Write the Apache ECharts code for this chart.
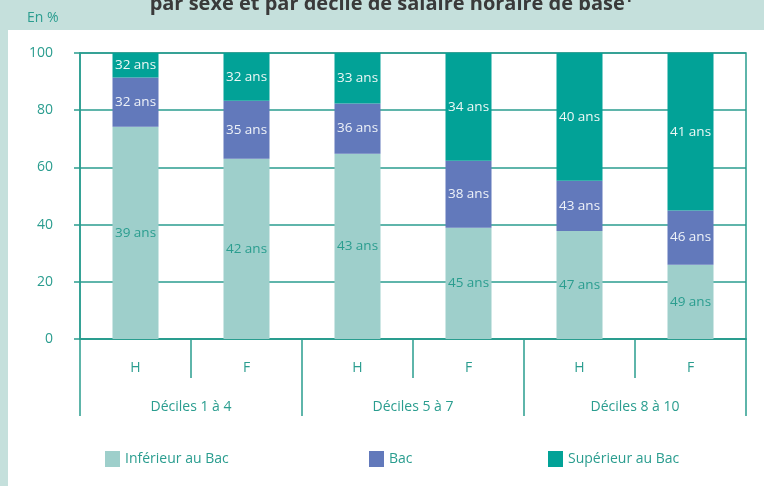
<!DOCTYPE html>
<html>
<head>
<meta charset="utf-8">
<script src="https://cdn.jsdelivr.net/npm/echarts@6/dist/echarts.min.js"></script>
<style>
  body { margin: 0; }
  #chart { width: 764px; height: 486px; background: #c5e0dc; }
</style>
</head>
<body>
<div id="chart"></div>
<script>
// catégories (sexe) et groupes de déciles
var sexes = ['H', 'F', 'H', 'F', 'H', 'F'];
var groupes = ['Déciles 1 à 4', 'Déciles 5 à 7', 'Déciles 8 à 10'];
var niveaux = ['Inférieur au Bac', 'Bac', 'Supérieur au Bac'];
var yTicks = [0, 20, 40, 60, 80, 100];

// parts en %
var inferieur = [74.2, 63.0, 64.8, 38.9, 37.8, 26.0];
var bac = [17.2, 20.3, 17.5, 23.4, 17.5, 18.9];
var superieur = [8.6, 16.7, 17.7, 37.7, 44.7, 55.1];

// âges moyens affichés dans les barres
var ageInf = [39, 42, 43, 45, 47, 49];
var ageBac = [32, 35, 36, 38, 43, 46];
var ageSup = [32, 32, 33, 34, 40, 41];

var teal = '#2a9d8f';
var font = '"Open Sans", "Noto Sans", sans-serif';

var myChart = echarts.init(document.getElementById('chart'));

function serie(nom, valeurs, ages, couleur, couleurTexte) {
  return {
    name: nom,
    type: 'bar',
    stack: 'total',
    barWidth: 46,
    xAxisIndex: 0,
    data: valeurs,
    itemStyle: { color: couleur },
    label: {
      show: true,
      position: 'inside',
      color: couleurTexte,
      fontFamily: font,
      fontSize: 13.5,
      formatter: function (p) { return ages[p.dataIndex] + ' ans'; }
    }
  };
}

// une légende par niveau pour placer chaque entrée
function legende(nom, gauche) {
  return {
    left: gauche,
    top: 446,
    itemWidth: 15,
    itemHeight: 16,
    icon: 'rect',
    textStyle: { color: teal, fontSize: 14, fontFamily: font },
    data: [nom]
  };
}

var option = {
  animation: false,
  textStyle: { fontFamily: font },
  graphic: [
    {
      type: 'rect', z: -10, silent: true,
      shape: { x: 8, y: 30, width: 756, height: 456 },
      style: { fill: '#ffffff' }
    },
    {
      type: 'text', x: 391, y: 14,
      style: {
        text: 'par sexe et par décile de salaire horaire de base¹',
        font: 'bold 20px ' + font,
        fill: '#3a3a3a',
        align: 'center', textAlign: 'center',
        verticalAlign: 'bottom', textVerticalAlign: 'bottom'
      }
    },
    {
      type: 'text', x: 27, y: 11,
      style: { text: 'En %', font: '14px ' + font, fill: teal }
    }
  ],
  legend: [
    legende(niveaux[0], 100),
    legende(niveaux[1], 364),
    legende(niveaux[2], 543)
  ],
  grid: {
    left: 80, right: 18, top: 53, bottom: 147,
    show: true, borderColor: teal, borderWidth: 1.5
  },
  xAxis: [
    {
      type: 'category',
      data: sexes,
      position: 'bottom',
      axisLine: { lineStyle: { color: teal, width: 1.5 } },
      axisTick: { show: true, interval: 0, length: 39, lineStyle: { color: teal, width: 1.5 } },
      axisLabel: { color: teal, fontSize: 14, margin: 22 }
    },
    {
      type: 'category',
      data: groupes,
      position: 'bottom',
      axisLine: { lineStyle: { color: teal, width: 1.5 } },
      axisTick: { show: true, interval: 0, length: 77, lineStyle: { color: teal, width: 1.5 } },
      axisLabel: { color: teal, fontSize: 14, margin: 61 }
    }
  ],
  yAxis: {
    type: 'value',
    min: 0,
    max: 100,
    interval: 20,
    axisLine: { show: true, lineStyle: { color: teal, width: 1.5 } },
    axisTick: { show: true, length: 6, lineStyle: { color: teal, width: 1.5 } },
    axisLabel: {
      color: teal, fontSize: 14, margin: 27,
      formatter: function (v) { return yTicks.indexOf(v) >= 0 ? v : ''; }
    },
    splitLine: { lineStyle: { color: teal, width: 1.5 } }
  },
  series: [
    serie(niveaux[0], inferieur, ageInf, '#9ecfcb', teal),
    serie(niveaux[1], bac, ageBac, '#6279bb', '#eef2f8'),
    serie(niveaux[2], superieur, ageSup, '#02a297', '#eef8f6')
  ]
};

myChart.setOption(option);
</script>
</body>
</html>
